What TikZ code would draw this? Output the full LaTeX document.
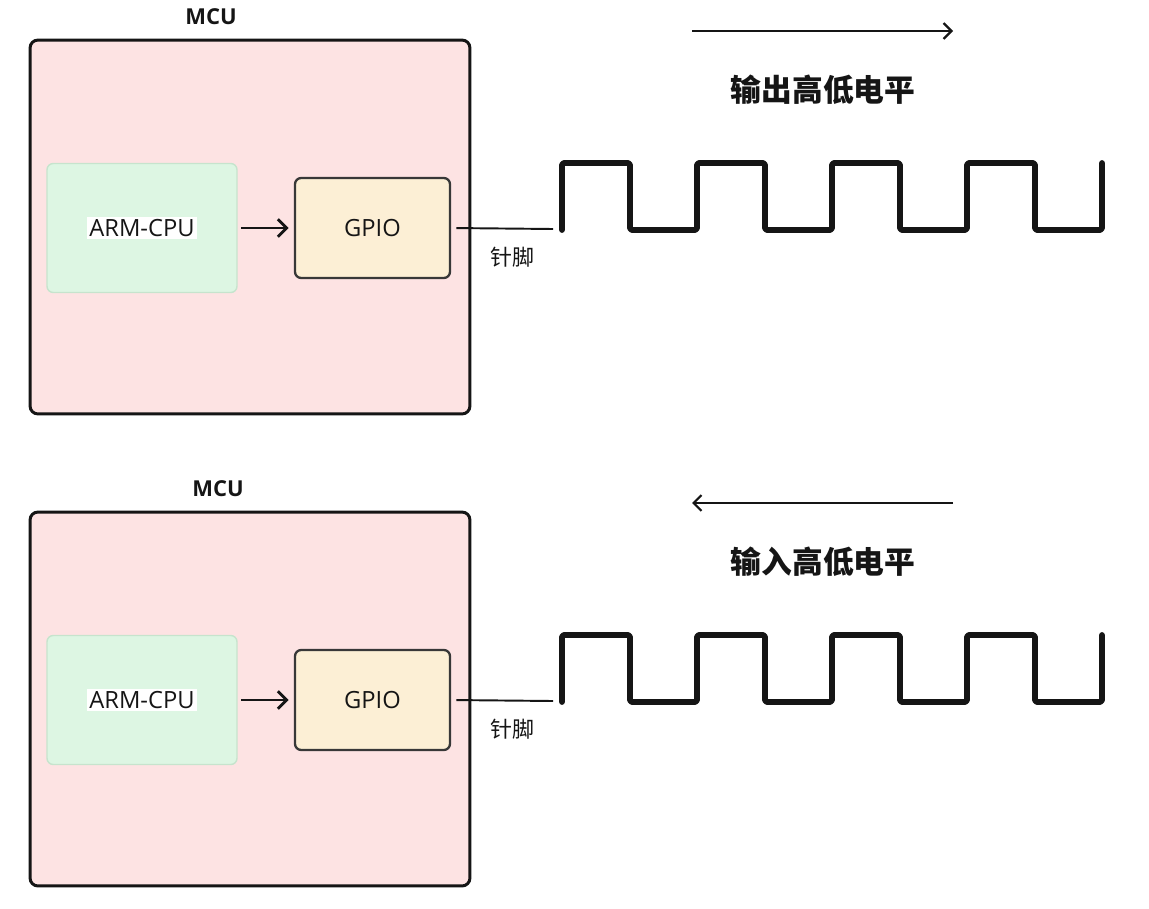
\documentclass[tikz,border=0pt]{standalone}
\usepackage{fontspec}
\setmainfont{Open Sans}
\newfontfamily\cjk{Noto Sans CJK SC}
\usetikzlibrary{arrows.meta}

\begin{document}
\begin{tikzpicture}[x=0.02cm,y=-0.02cm]
  \definecolor{chip}{HTML}{FDE3E3}
  \definecolor{core}{HTML}{DDF6E3}
  \definecolor{coreline}{HTML}{C6E4CD}
  \definecolor{port}{HTML}{FCEFD5}
  \definecolor{ink}{HTML}{151515}
  \path[use as bounding box] (0,0) rectangle (1149,909);

  \tikzset{mcu/.style={draw=ink,line width=1.7pt,fill=chip,rounded corners=4.5pt,
             minimum width=8.8cm,minimum height=7.48cm,inner sep=0pt},
           cpu/.style={draw=coreline,line width=.8pt,fill=core,rounded corners=3.5pt,
             minimum width=3.8cm,minimum height=2.58cm,inner sep=0pt},
           cputext/.style={fill=white,inner sep=1.5pt,text=ink,font=\fontsize{13.5}{16}\selectfont},
           gpio/.style={draw=ink!85,line width=1.3pt,fill=port,rounded corners=3.5pt,
             minimum width=3.1cm,minimum height=2cm,inner sep=0pt,text=ink,
             font=\fontsize{13.5}{16}\selectfont},
           caption/.style={text=ink,font=\bfseries\fontsize{12.5}{15}\selectfont},
           pinlabel/.style={text=ink,font=\cjk\fontsize{12.5}{15}\selectfont},
           signal/.style={text=ink,font=\cjk\bfseries\fontsize{17.5}{20}\selectfont},
           link/.style={ink,line width=1.6pt,-{Straight Barb[length=5pt,width=10pt]}},
           flow/.style={ink,line width=1.3pt,-{Straight Barb[length=4.5pt,width=9pt]}},
           pin/.style={ink,line width=1.1pt},
           wave/.style={ink,line width=3.3pt,line cap=round,line join=round,rounded corners=1pt}}

  % Same panel twice: output on top, input below with the arrow reversed.
  \foreach \dy/\n/\mx/\txt/\from/\to in {0/a/211/输出高低电平/692/953, 472/b/218/输入高低电平/953/692}{
    \begin{scope}[shift={(0,\dy)}]
      \node[caption] (title\n) at (\mx,17) {MCU};
      \node[mcu] (mcu\n) at (250,227) {};
      \node[cpu] (cpu\n) at (142,228) {};
      \node[cputext] at (cpu\n.center) {ARM-CPU};
      \node[gpio] (gpio\n) at (372.5,228) {GPIO};
      \draw[link,shorten <=2pt,shorten >=3pt] (cpu\n) -- (gpio\n);

      \coordinate (pin\n) at (553,229);
      \draw[pin,shorten <=3pt] (gpio\n.east) -- (pin\n);
      \node[pinlabel] (pinname\n) at (512,257) {针脚};

      \coordinate (tail\n) at (\from,31);
      \coordinate (head\n) at (\to,31);
      \draw[flow] (tail\n) -- (head\n);
      \node[signal] (level\n) at (823,90) {\txt};

      \coordinate (wave\n) at (562,230);
      \draw[wave] (wave\n) \foreach \k in {1,...,4}{ -- ++(0,-67) -- ++(68,0) -- ++(0,67) -- ++(67,0)} -- ++(0,-67);
    \end{scope}
  }
\end{tikzpicture}
\end{document}
